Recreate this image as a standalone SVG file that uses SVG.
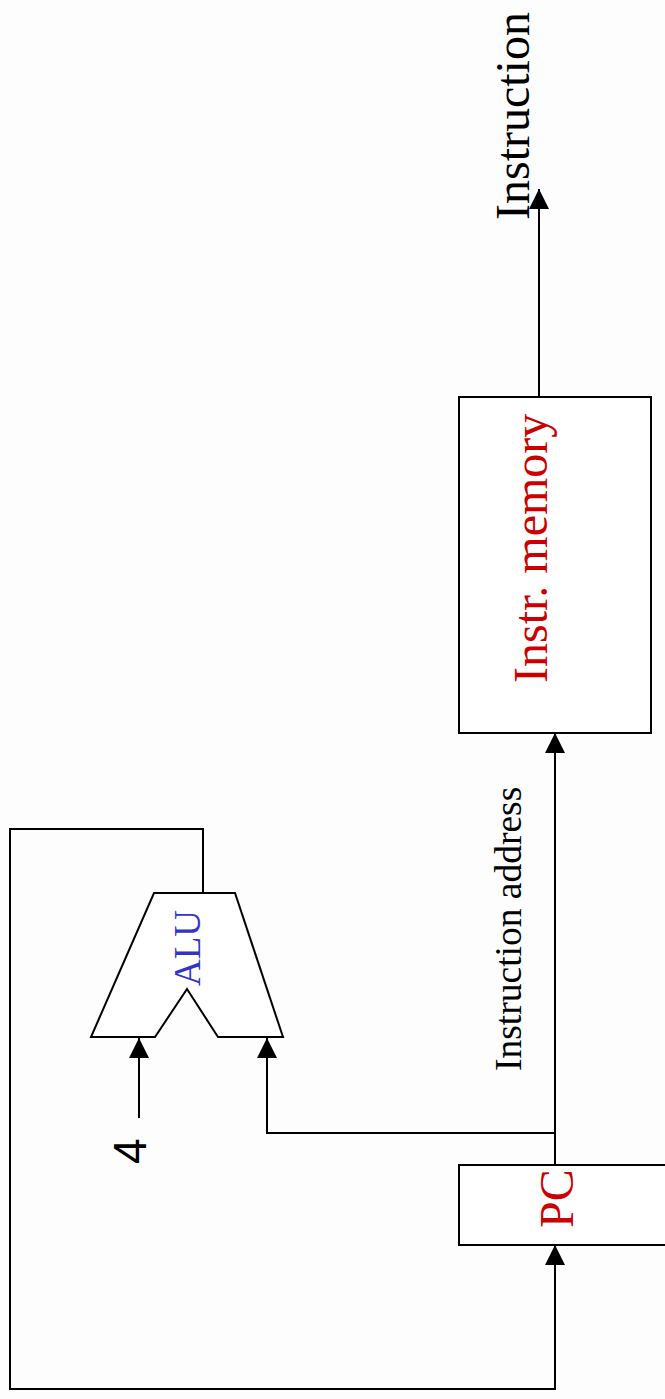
<svg xmlns="http://www.w3.org/2000/svg" width="665" height="1399" viewBox="0 0 665 1399">
  <style>
    .wire { fill: none; stroke: #000; stroke-width: 2; }
    .box { fill: #fff; stroke: #000; stroke-width: 2; }
    .serif { font-family: "Liberation Serif", "Times New Roman", serif; }
    .red { fill: #cc0000; }
    .blue { fill: #3333cc; }
  </style>
  <defs>
    <marker id="arrow" viewBox="0 0 20 20" refX="20" refY="10" markerWidth="20" markerHeight="20" markerUnits="userSpaceOnUse" orient="auto">
      <path d="M0,0 L20,10 L0,20 z" fill="#000"/>
    </marker>
  </defs>
  <rect width="665" height="1399" fill="#fdfdfd"/>

  <!-- connectors -->
  <g id="connectors">
    <!-- instruction out of memory -->
    <line class="wire" x1="539" y1="397" x2="539" y2="189" marker-end="url(#arrow)"/>
    <!-- PC to instruction memory -->
    <line class="wire" x1="555" y1="1165" x2="555" y2="733" marker-end="url(#arrow)"/>
    <!-- branch to ALU right input -->
    <polyline class="wire" points="555,1133 267,1133 267,1038" marker-end="url(#arrow)"/>
    <!-- constant 4 to ALU left input -->
    <line class="wire" x1="139" y1="1118" x2="139" y2="1038" marker-end="url(#arrow)"/>
    <!-- ALU output back to PC -->
    <polyline class="wire" points="203,893 203,829 10,829 10,1389 555,1389 555,1245" marker-end="url(#arrow)"/>
  </g>

  <!-- instruction memory -->
  <g id="imem">
    <rect class="box" x="459" y="397" width="192" height="336"/>
    <text class="serif red" font-size="48" transform="translate(547,683) rotate(-90)">Instr. memory</text>
  </g>

  <!-- program counter -->
  <g id="pc">
    <rect class="box" x="459" y="1165" width="220" height="80"/>
    <text class="serif red" font-size="48" transform="translate(573,1228) rotate(-90)">PC</text>
  </g>

  <!-- adder -->
  <g id="alu">
    <polygon class="box" points="154,893 235,893 283,1037 218,1037 187,989 155,1037 91,1037"/>
    <text class="serif blue" font-size="37" transform="translate(200,986) rotate(-90)">ALU</text>
  </g>

  <!-- labels -->
  <g id="labels">
    <text class="serif" font-size="48" transform="translate(529,220) rotate(-90)">Instruction</text>
    <text class="serif" font-size="37.5" transform="translate(521,1071) rotate(-90)">Instruction address</text>
    <text font-family="Liberation Sans, Arial, sans-serif" font-size="46" transform="translate(146,1164) rotate(-90)">4</text>
  </g>
</svg>
